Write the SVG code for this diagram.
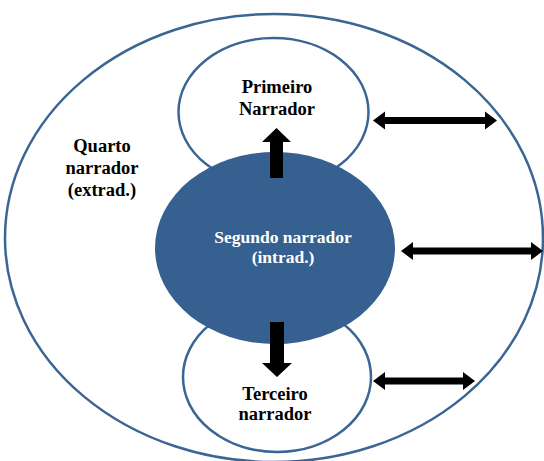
<svg xmlns="http://www.w3.org/2000/svg" width="544" height="461" viewBox="0 0 544 461">
<style>
.ring{fill:#ffffff;stroke:#3a6594;stroke-width:2.5}
.core{fill:#36608f;stroke:none}
.t{font-family:"Liberation Serif","Times New Roman",serif;font-weight:bold;font-size:18.5px;text-anchor:middle;fill:#000}
.w{fill:#ffffff;font-size:17.5px}
.arr{fill:#000}
</style>
<rect width="544" height="461" fill="#ffffff"/>
<g id="quarto">
<ellipse class="ring" cx="274" cy="238" rx="269" ry="224"/>
<text class="t" x="102" y="152">Quarto</text>
<text class="t" x="102" y="174">narrador</text>
<text class="t" x="102" y="196">(extrad.)</text>
</g>
<g id="primeiro">
<ellipse class="ring" cx="273.5" cy="112" rx="95" ry="74"/>
<text class="t" x="277" y="93">Primeiro</text>
<text class="t" x="277" y="115">Narrador</text>
</g>
<g id="terceiro">
<ellipse class="ring" cx="277" cy="377" rx="94" ry="75"/>
<text class="t" x="275" y="400">Terceiro</text>
<text class="t" x="275" y="420">narrador</text>
</g>
<g id="segundo">
<ellipse class="core" cx="275" cy="248" rx="120" ry="96"/>
<text class="t w" x="283" y="243">Segundo narrador</text>
<text class="t w" x="283" y="263">(intrad.)</text>
</g>
<g id="connectors">
<polygon class="arr" points="270,178 283,178 283,142 291,142 276.5,128 262,142 270,142"/>
<polygon class="arr" points="270,322 284,322 284,363 292,363 277,377 262,363 270,363"/>
<polygon class="arr" points="373,120.5 385,111.5 385,117 485,117 485,111.5 497,120.5 485,129.5 485,124 385,124 385,129.5"/>
<polygon class="arr" points="401,251 413,242 413,247.5 531,247.5 531,242 543,251 531,260 531,254.5 413,254.5 413,260"/>
<polygon class="arr" points="373,381 385,372 385,377.5 463,377.5 463,372 475,381 463,390 463,384.5 385,384.5 385,390"/>
</g>
</svg>
